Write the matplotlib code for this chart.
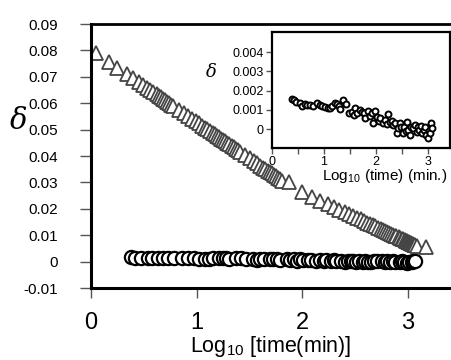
import matplotlib
matplotlib.use("Agg")
import matplotlib.pyplot as plt
import numpy as np

plt.rcParams["font.family"] = "Liberation Sans"
plt.rcParams["mathtext.fontset"] = "custom"
plt.rcParams["mathtext.rm"] = "Liberation Sans"
plt.rcParams["mathtext.it"] = "Liberation Sans:italic"

# triangles: log10(time) and delta
tri_x = [0.05, 0.17, 0.25, 0.34, 0.40, 0.45, 0.49, 0.53, 0.56, 0.59, 0.62, 0.64, 0.66,
         0.68, 0.70, 0.72, 0.74, 0.76, 0.78, 0.83, 0.88, 0.92, 0.96, 0.99, 1.02, 1.05,
         1.08, 1.10, 1.13, 1.15, 1.17, 1.19, 1.21, 1.23, 1.25, 1.27, 1.29, 1.31, 1.33,
         1.35, 1.37, 1.39, 1.41, 1.46, 1.50, 1.54, 1.57, 1.60, 1.63, 1.65, 1.67, 1.69,
         1.71, 1.73, 1.75, 1.77, 1.79, 1.81, 1.87,
         2.00, 2.09, 2.17, 2.24, 2.30, 2.35, 2.40, 2.44, 2.48, 2.52, 2.55, 2.58, 2.61,
         2.64, 2.67, 2.69, 2.72, 2.74, 2.76, 2.78, 2.80, 2.82, 2.84, 2.86, 2.88, 2.89,
         2.91, 2.92, 2.94, 2.95, 2.97, 2.98, 2.99, 3.00, 3.01, 3.02, 3.03, 3.04, 3.05,
         3.06, 3.07, 3.08, 3.17]
tri_y = [0.0790, 0.0757, 0.0735, 0.0711, 0.0694, 0.0680, 0.0669, 0.0658, 0.0650, 0.0642,
         0.0634, 0.0628, 0.0623, 0.0617, 0.0612, 0.0606, 0.0601, 0.0595, 0.0590, 0.0576,
         0.0562, 0.0551, 0.0540, 0.0532, 0.0524, 0.0515, 0.0507, 0.0502, 0.0493, 0.0488,
         0.0482, 0.0477, 0.0471, 0.0466, 0.0460, 0.0455, 0.0449, 0.0444, 0.0438, 0.0433,
         0.0427, 0.0422, 0.0416, 0.0403, 0.0392, 0.0381, 0.0372, 0.0364, 0.0356, 0.0350,
         0.0345, 0.0339, 0.0334, 0.0328, 0.0323, 0.0317, 0.0312, 0.0306, 0.0300,
         0.0263, 0.0246, 0.0231, 0.0218, 0.0206, 0.0197, 0.0188, 0.0180, 0.0173, 0.0165,
         0.0160, 0.0154, 0.0148, 0.0142, 0.0137, 0.0133, 0.0127, 0.0124, 0.0120, 0.0116,
         0.0112, 0.0109, 0.0105, 0.0101, 0.0097, 0.0096, 0.0092, 0.0090, 0.0086, 0.0084,
         0.0081, 0.0079, 0.0077, 0.0075, 0.0073, 0.0071, 0.0069, 0.0068, 0.0066, 0.0064,
         0.0062, 0.0060, 0.0056]

# circles (shown in main plot and inset)
circ_x = [0.38, 0.42, 0.47, 0.54, 0.58, 0.63, 0.68, 0.73, 0.79, 0.86, 0.92, 0.97, 1.02,
          1.08, 1.12, 1.15, 1.21, 1.25, 1.28, 1.31, 1.37, 1.42, 1.47, 1.53, 1.57, 1.60,
          1.64, 1.69, 1.72, 1.76, 1.79, 1.85, 1.88, 1.92, 1.95, 1.98, 2.01, 2.05, 2.08,
          2.13, 2.17, 2.20, 2.22, 2.27, 2.30, 2.32, 2.37, 2.40, 2.43, 2.46, 2.48, 2.51,
          2.54, 2.57, 2.59, 2.62, 2.65, 2.68, 2.71, 2.75, 2.78, 2.80, 2.83, 2.86, 2.88,
          2.92, 2.94, 2.96, 2.99, 3.01, 3.04, 3.05, 3.07]
circ_y = [1.57, 1.50, 1.43, 1.38, 1.22, 1.31, 1.25, 1.26, 1.20, 1.35, 1.26, 1.20, 1.14,
          1.09, 1.10, 1.20, 1.35, 1.30, 1.20, 1.04, 1.52, 1.31, 0.83, 0.91, 0.75, 1.09,
          0.83, 1.00, 0.92, 0.83, 0.57, 0.96, 0.70, 0.83, 0.34, 0.96, 0.65, 0.45, 0.57,
          0.34, 0.48, 0.25, 0.79, 0.39, 0.45, 0.22, 0.31, -0.20, 0.05, 0.31, 0.10, -0.20,
          0.13, -0.10, 0.39, -0.04, -0.30, 0.10, 0.05, 0.22, -0.12, 0.10, -0.04, 0.15, -0.20,
          -0.04, 0.10, -0.30, -0.47, -0.10, -0.20, 0.34, 0.05]
circ_y = [v * 0.001 for v in circ_y]

fig = plt.figure(figsize=(4.51, 3.60), dpi=100)
ax = fig.add_axes([91 / 451, 0.2, 1 - 91 / 451, 0.7333])
ax.plot(tri_x, tri_y, ls="none", marker="^", ms=10, mfc="white", mec="#444444", mew=1.3)
ax.plot(circ_x, circ_y, ls="none", marker="o", ms=9.5, mfc="white", mec="black", mew=1.6)
ax.set_xlim(0, 3.406)
ax.set_ylim(-0.01, 0.09)
ax.set_xticks([0, 1, 2, 3])
ax.set_yticks(np.arange(-0.01, 0.0901, 0.01))
ax.set_yticklabels(["-0.01", "0", "0.01", "0.02", "0.03", "0.04", "0.05", "0.06",
                    "0.07", "0.08", "0.09"])
ax.spines["right"].set_visible(False)
ax.spines["left"].set_linewidth(2.2)
ax.spines["bottom"].set_linewidth(2.2)
ax.spines["top"].set_linewidth(2.0)
ax.tick_params(axis="y", direction="out", length=8, width=1, color="#555555",
               labelsize=11, pad=16)
ax.tick_params(axis="x", direction="out", length=7, width=1, color="#555555",
               labelsize=17, pad=10)
ax.set_xlabel(r"Log$_{10}$ [time(min)]", fontsize=15.5, labelpad=0)
fig.text(19 / 451, 1 - 121 / 360, "δ", family="DejaVu Serif", style="italic",
         fontsize=21, ha="center", va="center")

ins = fig.add_axes([272 / 451, 1 - 148 / 360, 178 / 451, 116 / 360])
ins.plot(circ_x, circ_y, ls="none", marker="o", ms=4.3, mfc="white", mec="black", mew=1.4)
ins.set_xlim(0, 3.42)
ins.set_ylim(-0.00097, 0.00504)
ins.set_xticks([0, 1, 2, 3])
ins.set_xticks([0.5, 1.5, 2.5], minor=True)
ins.set_yticks([0, 0.001, 0.002, 0.003, 0.004])
ins.set_yticklabels(["0", "0.001", "0.002", "0.003", "0.004"])
for s in ins.spines.values():
    s.set_linewidth(1.6)
ins.tick_params(which="both", direction="out", length=4, width=1, color="#555555",
                labelsize=9, pad=2)
ins.set_xlabel(r"Log$_{10}$ (time) (min.)", fontsize=11)
ins.xaxis.set_label_coords(0.635, -0.165)
fig.text(211 / 451, 1 - 72 / 360, "δ", family="DejaVu Serif", style="italic",
         fontsize=13, ha="center", va="center")

plt.savefig("out.png", dpi=100)
plt.close()
